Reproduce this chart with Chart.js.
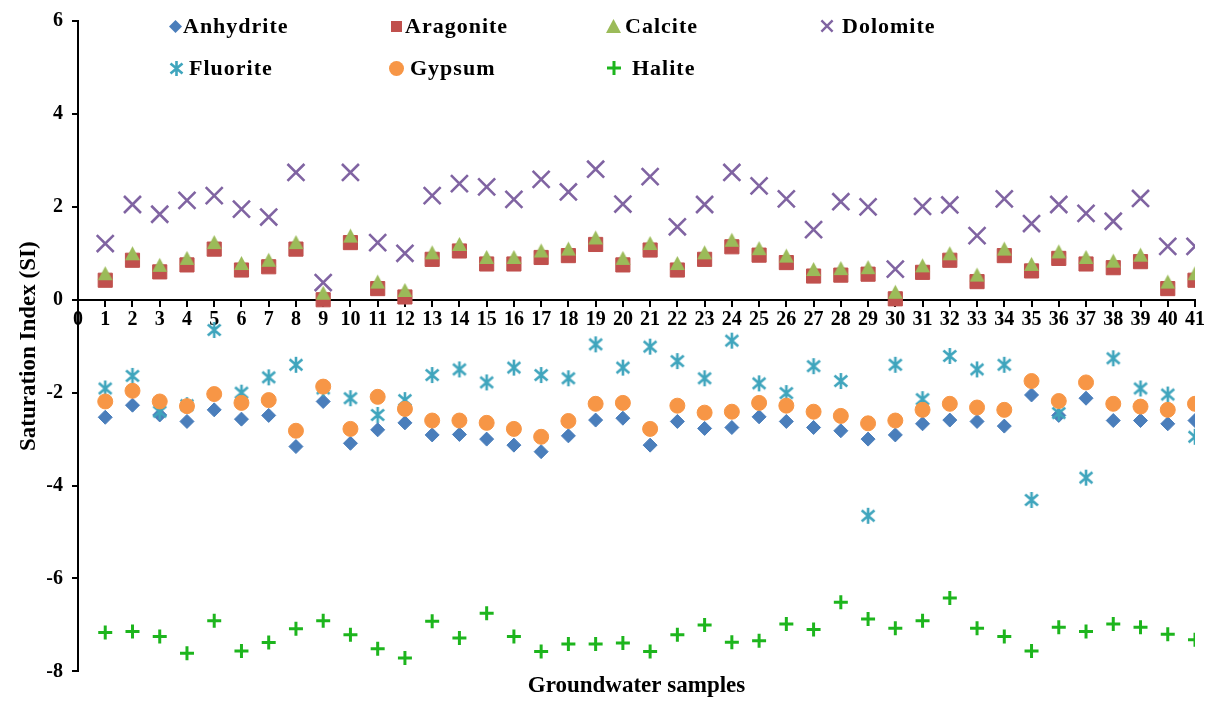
<!DOCTYPE html>
<html><head><meta charset="utf-8">
<script src="https://cdn.jsdelivr.net/npm/chart.js@4/dist/chart.umd.min.js"></script>
<style>
html,body{margin:0;padding:0;background:#fff;}
#wrap{position:relative;width:1215px;height:701px;}
#legend{position:absolute;left:0;top:0;width:1215px;height:100px;pointer-events:none;font-family:"Liberation Serif","Times New Roman",serif;font-weight:bold;font-size:22px;letter-spacing:1px;color:#000;}
.mk{position:absolute;}
.tx{position:absolute;white-space:nowrap;line-height:26px;}
</style></head><body>
<div id="wrap"><canvas id="c" width="1215" height="701"></canvas><div id="legend"></div></div>
<script>
// ---- data ----
const samples = [1,2,3,4,5,6,7,8,9,10,11,12,13,14,15,16,17,18,19,20,21,22,23,24,25,26,27,28,29,30,31,32,33,34,35,36,37,38,39,40,41];
const seriesNames = ["Anhydrite","Aragonite","Calcite","Dolomite","Fluorite","Gypsum","Halite"];
const anhydrite = [-2.53,-2.27,-2.48,-2.62,-2.37,-2.57,-2.49,-3.16,-2.19,-3.09,-2.80,-2.65,-2.91,-2.90,-3.00,-3.13,-3.27,-2.93,-2.59,-2.55,-3.13,-2.62,-2.77,-2.75,-2.52,-2.62,-2.75,-2.82,-3.00,-2.91,-2.67,-2.59,-2.62,-2.72,-2.05,-2.49,-2.12,-2.60,-2.60,-2.67,-2.60];
const aragonite = [0.42,0.85,0.60,0.75,1.09,0.64,0.71,1.09,0.00,1.23,0.24,0.06,0.87,1.05,0.77,0.77,0.91,0.95,1.19,0.75,1.07,0.64,0.87,1.14,0.96,0.80,0.51,0.53,0.55,0.02,0.59,0.85,0.39,0.95,0.62,0.89,0.77,0.69,0.82,0.24,0.42];
const calcite = [0.56,0.99,0.74,0.89,1.23,0.78,0.85,1.23,0.14,1.37,0.38,0.20,1.01,1.19,0.91,0.91,1.05,1.09,1.33,0.89,1.21,0.78,1.01,1.28,1.10,0.94,0.65,0.67,0.69,0.16,0.73,0.99,0.53,1.09,0.76,1.03,0.91,0.83,0.96,0.38,0.56];
const dolomite = [1.21,2.05,1.84,2.14,2.24,1.95,1.78,2.74,0.37,2.74,1.23,1.00,2.24,2.50,2.43,2.16,2.59,2.32,2.81,2.06,2.65,1.57,2.05,2.74,2.45,2.17,1.51,2.11,2.00,0.66,2.01,2.04,1.38,2.17,1.64,2.05,1.86,1.69,2.18,1.15,1.15];
const fluorite = [-1.91,-1.64,-2.41,-2.27,-0.65,-2.00,-1.67,-1.40,-1.91,-2.12,-2.48,-2.16,-1.62,-1.50,-1.78,-1.46,-1.62,-1.69,-0.96,-1.46,-1.01,-1.32,-1.69,-0.88,-1.80,-2.01,-1.43,-1.75,-4.65,-1.40,-2.14,-1.21,-1.50,-1.40,-4.31,-2.44,-3.83,-1.26,-1.91,-2.04,-2.95];
const gypsum = [-2.19,-1.96,-2.19,-2.29,-2.03,-2.22,-2.16,-2.82,-1.87,-2.78,-2.09,-2.35,-2.60,-2.60,-2.65,-2.78,-2.95,-2.61,-2.24,-2.22,-2.78,-2.28,-2.43,-2.41,-2.22,-2.28,-2.41,-2.50,-2.66,-2.60,-2.37,-2.24,-2.32,-2.37,-1.75,-2.18,-1.78,-2.24,-2.30,-2.37,-2.24];
const halite = [-7.16,-7.14,-7.25,-7.61,-6.91,-7.56,-7.38,-7.08,-6.91,-7.21,-7.51,-7.71,-6.92,-7.28,-6.75,-7.25,-7.57,-7.41,-7.41,-7.39,-7.57,-7.21,-7.00,-7.37,-7.34,-6.98,-7.10,-6.51,-6.87,-7.07,-6.91,-6.42,-7.07,-7.25,-7.56,-7.05,-7.14,-6.98,-7.05,-7.20,-7.32];
const yTicks = [-8,-6,-4,-2,0,2,4,6];
const xTitle = "Groundwater samples";
const yTitle = "Saturation Index (SI)";

// ---- styles ----
const FONT = '"Liberation Serif","Times New Roman",serif';
const colors = ["#4A7EBB","#C0504D","#9BBB59","#8064A2","#3FA5BD","#F79646","#1DB51D"];

function makeMarker(kind, color, s) {
  const c = document.createElement('canvas');
  const pad = 2;
  c.width = s + pad*2; c.height = s + pad*2;
  const g = c.getContext('2d');
  const m = c.width/2, h = s/2;
  g.fillStyle = color; g.strokeStyle = color; g.lineCap = 'butt';
  g.beginPath();
  if (kind === 'diamond') {
    g.moveTo(m, m-h); g.lineTo(m+h, m); g.lineTo(m, m+h); g.lineTo(m-h, m); g.closePath(); g.fill();
  } else if (kind === 'square') {
    g.rect(m-h*0.85, m-h*0.85, h*1.7, h*1.7); g.fill();
  } else if (kind === 'triangle') {
    g.moveTo(m, m-h); g.lineTo(m+h, m+h*0.85); g.lineTo(m-h, m+h*0.85); g.closePath(); g.fill();
  } else if (kind === 'x') {
    g.lineWidth = 2.4; const k = h*0.8;
    g.moveTo(m-k, m-k); g.lineTo(m+k, m+k); g.moveTo(m+k, m-k); g.lineTo(m-k, m+k); g.stroke();
  } else if (kind === 'star') {
    g.lineWidth = 2.6; const k = h*0.8;
    g.moveTo(m-k, m-k*0.85); g.lineTo(m+k, m+k*0.85); g.moveTo(m+k, m-k*0.85); g.lineTo(m-k, m+k*0.85);
    g.moveTo(m, m-h); g.lineTo(m, m+h);
    g.stroke();
  } else if (kind === 'circle') {
    g.arc(m, m, h, 0, Math.PI*2); g.fill();
  } else if (kind === 'plus') {
    g.lineWidth = 3;
    g.moveTo(m-h, m); g.lineTo(m+h, m); g.moveTo(m, m-h); g.lineTo(m, m+h); g.stroke();
  }
  return c;
}

const triImg = makeMarker('triangle', colors[2], 15);
const starImg = makeMarker('star', colors[4], 16);

const values = [anhydrite, aragonite, calcite, dolomite, fluorite, gypsum, halite];
const pointOpts = [
  {pointStyle:'rectRot', radius:7, borderWidth:1},
  {pointStyle:'rect', radius:10, borderWidth:1},
  {pointStyle:triImg, radius:8, borderWidth:0},
  {pointStyle:'crossRot', radius:12, borderWidth:2.6},
  {pointStyle:starImg, radius:9, borderWidth:0},
  {pointStyle:'circle', radius:7.5, borderWidth:1},
  {pointStyle:'cross', radius:7, borderWidth:3}
];

const datasets = seriesNames.map((name, i) => Object.assign({
  label: name,
  data: samples.map((s, j) => ({x: s, y: values[i][j]})),
  backgroundColor: colors[i],
  borderColor: colors[i],
  showLine: false,
  order: seriesNames.length - i
}, pointOpts[i], {pointRadius: pointOpts[i].radius, pointHoverRadius: pointOpts[i].radius}));

new Chart(document.getElementById('c'), {
  type: 'scatter',
  data: {datasets},
  options: {
    responsive: false,
    animation: false,
    events: [],
    layout: {padding: {top: 9, right: 20, left: 0, bottom: 0}},
    plugins: {
      legend: {display: false},
      tooltip: {enabled: false},
      title: {display: true, position: 'bottom', fullSize: false, text: xTitle, color: '#000',
        font: {family: FONT, size: 23, weight: 'bold'}, padding: {top: 1, bottom: 1}}
    },
    scales: {
      x: {
        type: 'linear', position: {y: 0}, min: 0, max: 41,
        ticks: {stepSize: 1, autoSkip: false, maxRotation: 0, color: '#000', padding: 2,
          font: {family: FONT, size: 20, weight: 'bold'}},
        grid: {drawOnChartArea: false, drawTicks: true, tickLength: 6, color: '#000', lineWidth: 2},
        border: {color: '#000', width: 2}
      },
      y: {
        min: yTicks[0], max: yTicks[yTicks.length-1],
        afterBuildTicks: (s) => { s.ticks = yTicks.map(v => ({value: v})); },
        ticks: {color: '#000', padding: 9, font: {family: FONT, size: 20, weight: 'bold'}},
        grid: {drawOnChartArea: false, drawTicks: true, tickLength: 6, color: '#000', lineWidth: 2},
        border: {color: '#000', width: 2},
        title: {display: true, text: yTitle, color: '#000', font: {family: FONT, size: 23, weight: 'bold'},
          padding: {top: 15, bottom: 0}},
        afterFit: (s) => { s.width = 78; }
      }
    }
  }
});

// ---- HTML legend ----
const legendPos = [[175,26,183],[396,26,405],[613,26,625],[827,26,842],[176,68,189],[396,68,410],[614,68,632]];
const legendKinds = ['diamond','square','triangle','x','star','circle','plus'];
const legendSizes = [13,13,15,14,15,15,14];
const lg = document.getElementById('legend');
seriesNames.forEach((name, i) => {
  const [mx, my, tx] = legendPos[i];
  const cv = makeMarker(legendKinds[i], colors[i], legendSizes[i]);
  cv.className = 'mk';
  cv.style.left = (mx - cv.width/2) + 'px';
  cv.style.top = (my - cv.height/2) + 'px';
  lg.appendChild(cv);
  const t = document.createElement('div');
  t.className = 'tx';
  t.textContent = name;
  t.style.left = tx + 'px';
  t.style.top = (my - 13) + 'px';
  lg.appendChild(t);
});
</script>
</body></html>
